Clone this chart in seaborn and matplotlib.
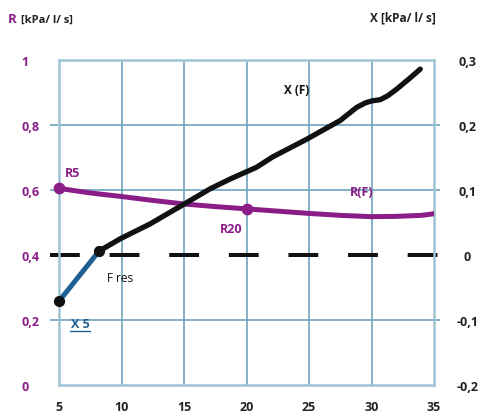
import numpy as np
import pandas as pd
import seaborn as sns
import matplotlib.pyplot as plt

# data
freq_r = [5, 7.5, 10, 12.5, 15, 17.5, 20, 22.5, 25, 27.5, 30, 32, 34, 35]
r_vals = [0.605, 0.591, 0.580, 0.568, 0.557, 0.549, 0.542, 0.535, 0.528, 0.522, 0.518, 0.519, 0.522, 0.527]

freq_x = [8.2, 9.9, 12.3, 14.8, 17.1, 18.7, 20.8, 22.1, 24.8, 27.5, 28.8, 29.5, 30.0, 30.7, 31.3, 32.0, 33.0, 33.9]
x_vals = [0.006, 0.025, 0.048, 0.076, 0.102, 0.117, 0.135, 0.151, 0.178, 0.207, 0.227, 0.234, 0.237, 0.239, 0.245, 0.255, 0.271, 0.286]

freq_x5 = [5, 8.2]
x5_vals = [-0.071, 0.006]

r_points_f = [5, 20]
r_points = [0.605, 0.542]

x_ticks = [5, 10, 15, 20, 25, 30, 35]
r_ticks = [0, 0.2, 0.4, 0.6, 0.8, 1]
r_labels = ['0', '0,2', '0,4', '0,6', '0,8', '1']
x_right_ticks = [-0.2, -0.1, 0, 0.1, 0.2, 0.3]
x_right_labels = ['-0,2', '-0,1', '0', '0,1', '0,2', '0,3']

purple = '#8b1d88'
blue = '#1f5f92'
grid_c = '#6fa4bf'
edge_c = '#9dc3d5'

sns.set_style('white')
plt.rcParams['font.family'] = ['Open Sans', 'DejaVu Sans']

fig = plt.figure(figsize=(4.81, 4.14), dpi=100)
ax = fig.add_axes([0.1227, 0.0676, 0.7796, 0.785])
ax2 = ax.twinx()

ax.set_xlim(5, 35)
ax.set_ylim(0, 1)
ax2.set_ylim(-0.2, 0.3)

# grid: vertical lines inside, horizontal lines a bit wider than the frame
for xv in x_ticks[1:-1]:
    ax.axvline(xv, color=grid_c, lw=1.2, zorder=0)
ax.hlines([0.2, 0.6, 0.8], 4.3, 35.5, color=grid_c, lw=1.2, clip_on=False, zorder=0)
for sp in ax.spines.values():
    sp.set_color(edge_c)
    sp.set_linewidth(1.8)
for sp in ax2.spines.values():
    sp.set_visible(False)

# zero reactance line
ax.hlines(0.4, 4.3, 35.6, color='#111111', lw=2.9, linestyles=(0, (7.4, 7.4)),
          clip_on=False, zorder=2, capstyle='butt')

# R(F)
df_r = pd.DataFrame({'f': freq_r, 'r': r_vals})
sns.lineplot(data=df_r, x='f', y='r', ax=ax, color=purple, lw=3.6, zorder=3)
ax.scatter(r_points_f, r_points, s=55, color=purple, zorder=4, clip_on=False)

# X(F) and X5 segment
df_x = pd.DataFrame({'f': freq_x, 'x': x_vals})
sns.lineplot(data=df_x, x='f', y='x', ax=ax2, color='#111111', lw=3.8, zorder=3)
df_x5 = pd.DataFrame({'f': freq_x5, 'x': x5_vals})
sns.lineplot(data=df_x5, x='f', y='x', ax=ax2, color=blue, lw=3.6, zorder=3)
ax2.scatter(freq_x5, x5_vals, s=50, color='#111111', zorder=5, clip_on=False)

# ticks
ax.set_xticks(x_ticks)
ax.set_xticklabels([str(v) for v in x_ticks], fontsize=9, fontweight='bold', color='#222222')
ax.set_yticks(r_ticks)
ax.set_yticklabels(r_labels, fontsize=9, fontweight='bold', color=purple, ha='left')
ax.tick_params(axis='y', length=0, pad=27)
ax.tick_params(axis='x', length=5, color=grid_c, width=1.2, pad=6)
ax2.set_yticks(x_right_ticks)
ax2.set_yticklabels(x_right_labels, fontsize=9, fontweight='bold', color='#222222', ha='center')
ax2.tick_params(axis='y', length=0, pad=24)
ax.set_xlabel('')
ax.set_ylabel('')
ax2.set_ylabel('')

# annotations
ax.text(6.1, 0.655, 'R5', color=purple, fontsize=9, fontweight='bold', ha='center', va='center')
ax.text(18.8, 0.483, 'R20', color=purple, fontsize=9, fontweight='bold', ha='center', va='center')
ax.text(29.2, 0.594, 'R(F)', color=purple, fontsize=9, fontweight='bold', ha='center', va='center')
ax.text(24.0, 0.908, 'X (F)', color='#111111', fontsize=8.5, fontweight='bold', ha='center', va='center')
ax.text(9.9, 0.332, 'F res', color='#111111', fontsize=8.5, ha='center', va='center')
ax.text(6.7, 0.188, 'X 5', color=blue, fontsize=9, fontweight='bold', ha='center', va='center')
ax.plot([5.9, 7.5], [0.166, 0.166], color=blue, lw=1, clip_on=False)

fig.text(0.017, 0.952, 'R', color=purple, fontsize=9.5, fontweight='bold', va='center')
fig.text(0.044, 0.952, '[kPa/ l/ s]', color='#222222', fontsize=8, fontweight='bold', va='center')
fig.text(0.769, 0.957, 'X [kPa/ l/ s]', color='#222222', fontsize=8.5, fontweight='bold', va='center')

fig.savefig('out.png', dpi=100)
